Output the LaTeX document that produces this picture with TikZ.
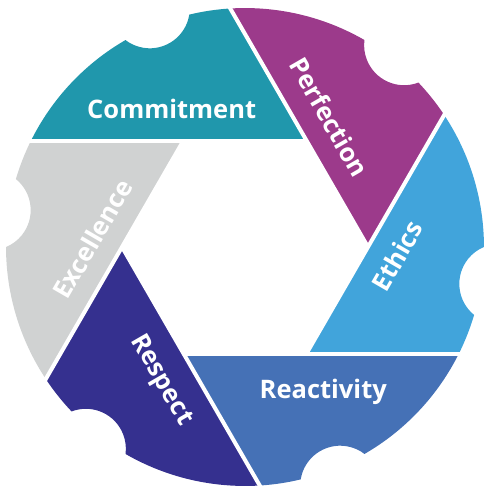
\documentclass[tikz,border=0pt]{standalone}
\usepackage{fontspec}
\setmainfont{Open Sans}
\definecolor{cCommit}{HTML}{2097AC}
\definecolor{cPerf}{HTML}{9C3A8B}
\definecolor{cEth}{HTML}{41A4DB}
\definecolor{cReact}{HTML}{4571B6}
\definecolor{cResp}{HTML}{35308F}
\definecolor{cExc}{HTML}{D0D2D2}
\begin{document}
\begin{tikzpicture}[x=1pt,y=1pt,
  bladetext/.style={text=white, font=\bfseries\fontsize{25.5}{30}\selectfont, anchor=center, inner sep=0pt, text height=18.2pt, text depth=0pt},
  gapline/.style={white, line width=4pt}]
\useasboundingbox (-245,-244) rectangle (238,247);
\foreach \k/\col in {0/cCommit,1/cPerf,2/cEth,3/cReact,4/cResp,5/cExc}{
  \begin{scope}[rotate=-60*\k]
    \fill[\col] (153.54:239) -- (61.49,106.5) -- (93.54:239)
      arc[start angle=93.54, end angle=103.48, radius=239pt]
      arc[start angle=-9.05, end angle=-127.45, radius=40pt]
      arc[start angle=120.02, end angle=153.54, radius=239pt] -- cycle;
  \end{scope}
}
\foreach \k in {0,...,5}{
  \begin{scope}[rotate=-60*\k]
    \draw[gapline] (-250,106.5) -- (61.49,106.5);
  \end{scope}
}
\node[bladetext] (commitment) at (-73.3,137.3) {Commitment};
\node[bladetext, rotate=-60] (perfection) at (84,129.5) {Perfection};
\node[bladetext, rotate=60] (ethics) at (152.5,-9) {Ethics};
\node[bladetext] (reactivity) at (78.3,-142.2) {Reactivity};
\node[bladetext, rotate=-60] (respect) at (-81.5,-132) {Respect};
\node[bladetext, rotate=60] (excellence) at (-152,8) {Excellence};
\end{tikzpicture}
\end{document}
